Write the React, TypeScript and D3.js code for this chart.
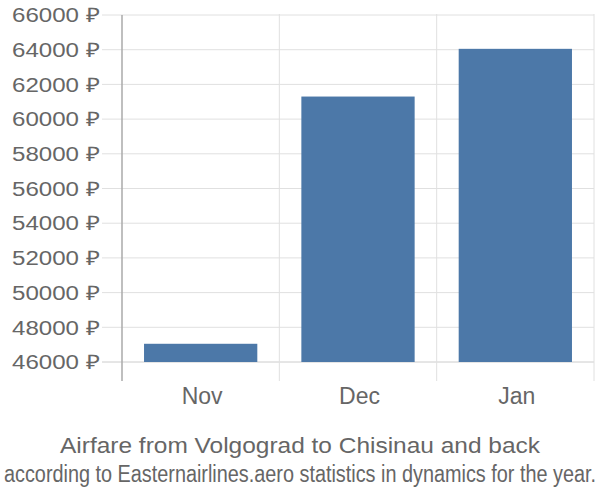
import React from "react";
import * as d3 from "d3";

const categories = ["Nov", "Dec", "Jan"];
const prices = [47050, 61300, 64050];
const yTicks = [46000, 48000, 50000, 52000, 54000, 56000, 58000, 60000, 62000, 64000, 66000];
const title = "Airfare from Volgograd to Chisinau and back";
const subtitle = "according to Easternairlines.aero statistics in dynamics for the year.";

export default function App() {
  const W = 600, H = 500;
  const left = 122, right = 594, top = 15, bottom = 362, axisBottom = 381;
  const x = d3.scaleBand<string>().domain(categories).range([left, right]).paddingInner(0.28).paddingOuter(0.14);
  const xOuter = d3.scaleBand<string>().domain(categories).range([left, right]);
  const y = d3.scaleLinear().domain([46000, 66000]).range([bottom, top]);
  const font = "'Liberation Sans', Arial, sans-serif";
  return (
    <svg width={W} height={H} style={{ position: "absolute", left: 0, top: 0, background: "#fff" }} fontFamily={font}>
      {yTicks.map((t) => (
        <g key={t}>
          <line x1={102} x2={right} y1={y(t)} y2={y(t)} stroke={t === 46000 ? "#ccc" : "#e0e0e0"} strokeWidth={1} />
          <text x={100} y={y(t)} dy="0.36em" textAnchor="end" fontSize={20} fill="#666" textLength={88} lengthAdjust="spacingAndGlyphs">{`${t} ₽`}</text>
        </g>
      ))}
      {categories.map((c) => (
        <line key={"v" + c} x1={(xOuter(c) as number) + xOuter.bandwidth()} x2={(xOuter(c) as number) + xOuter.bandwidth()} y1={top - 1} y2={axisBottom} stroke="#e0e0e0" />
      ))}
      <line x1={left} x2={left} y1={top} y2={axisBottom} stroke="#aaa" strokeWidth={1.5} />
      {categories.map((c, i) => (
        <rect key={c} x={x(c)} width={x.bandwidth()} y={y(prices[i])} height={bottom - y(prices[i])} fill="#4C78A8" />
      ))}
      {categories.map((c) => (
        <text key={"l" + c} x={(xOuter(c) as number) + xOuter.bandwidth() / 2 + 1.5} y={404} textAnchor="middle" fontSize={23} fill="#666">{c}</text>
      ))}
      <text x={300} y={453} textAnchor="middle" fontSize={22.5} fill="#666" textLength={480} lengthAdjust="spacingAndGlyphs">{title}</text>
      <g transform="translate(300,482) scale(1,1.18)">
        <text x={0} y={0} textAnchor="middle" fontSize={19.5} fill="#666" textLength={592} lengthAdjust="spacingAndGlyphs">{subtitle}</text>
      </g>
    </svg>
  );
}
